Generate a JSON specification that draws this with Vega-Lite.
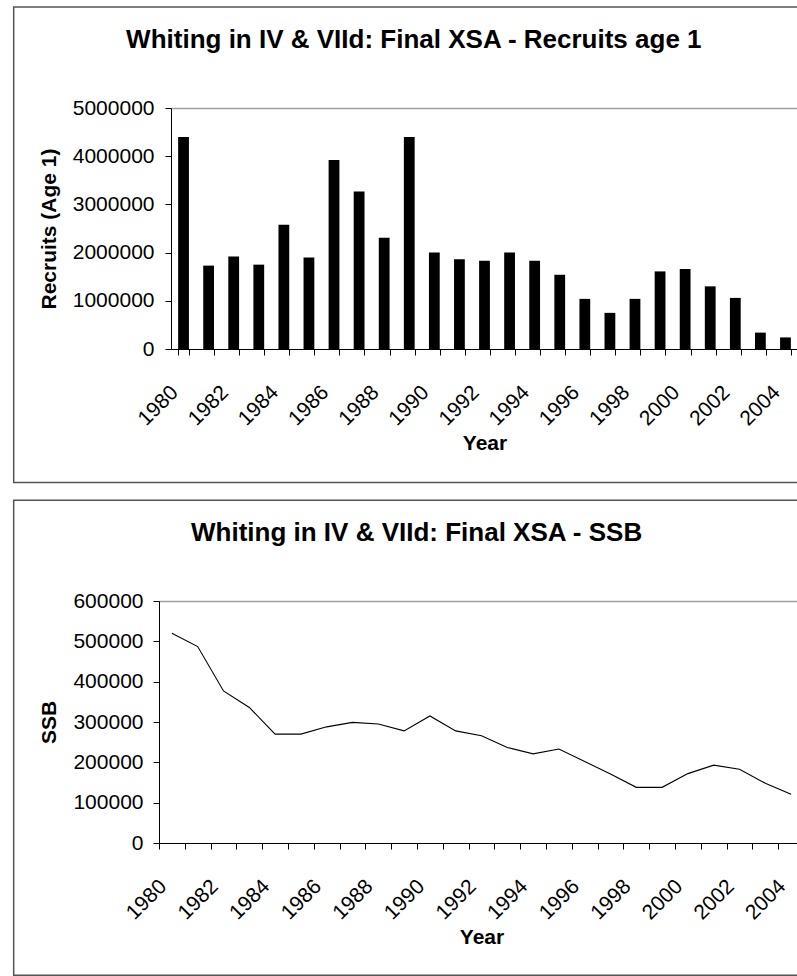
{
  "$schema": "https://vega.github.io/schema/vega-lite/v6.json",
  "background": "white",
  "padding": {"left": 12, "top": 6, "right": 0, "bottom": 0},
  "config": {
    "font": "Liberation Sans",
    "view": {"stroke": null},
    "axis": {
      "domainColor": "#000", "tickColor": "#000", "labelColor": "#000", "titleColor": "#000",
      "labelFont": "Liberation Sans", "titleFont": "Liberation Sans",
      "labelFontSize": 21, "titleFontSize": 21, "titleFontWeight": "bold",
      "tickSize": 6, "domainWidth": 1, "tickWidth": 1, "labelPadding": 11
    },
    "title": {"fontSize": 26, "fontWeight": "bold", "color": "#000", "font": "Liberation Sans", "frame": "bounds", "anchor": "middle", "offset": -47}
  },
  "datasets": {
    "recruits": [
      {"Year": 1980, "Recruits": 4400000}, {"Year": 1981, "Recruits": 1730000}, {"Year": 1982, "Recruits": 1920000},
      {"Year": 1983, "Recruits": 1750000}, {"Year": 1984, "Recruits": 2580000}, {"Year": 1985, "Recruits": 1900000},
      {"Year": 1986, "Recruits": 3920000}, {"Year": 1987, "Recruits": 3270000}, {"Year": 1988, "Recruits": 2310000},
      {"Year": 1989, "Recruits": 4400000}, {"Year": 1990, "Recruits": 2000000}, {"Year": 1991, "Recruits": 1860000},
      {"Year": 1992, "Recruits": 1830000}, {"Year": 1993, "Recruits": 2000000}, {"Year": 1994, "Recruits": 1830000},
      {"Year": 1995, "Recruits": 1540000}, {"Year": 1996, "Recruits": 1040000}, {"Year": 1997, "Recruits": 750000},
      {"Year": 1998, "Recruits": 1040000}, {"Year": 1999, "Recruits": 1610000}, {"Year": 2000, "Recruits": 1660000},
      {"Year": 2001, "Recruits": 1300000}, {"Year": 2002, "Recruits": 1060000}, {"Year": 2003, "Recruits": 340000},
      {"Year": 2004, "Recruits": 240000}
    ],
    "ssb": [
      {"Year": 1980, "SSB": 520000}, {"Year": 1981, "SSB": 487000}, {"Year": 1982, "SSB": 377000},
      {"Year": 1983, "SSB": 336000}, {"Year": 1984, "SSB": 270000}, {"Year": 1985, "SSB": 270000},
      {"Year": 1986, "SSB": 288000}, {"Year": 1987, "SSB": 299000}, {"Year": 1988, "SSB": 295000},
      {"Year": 1989, "SSB": 278000}, {"Year": 1990, "SSB": 315000}, {"Year": 1991, "SSB": 278000},
      {"Year": 1992, "SSB": 266000}, {"Year": 1993, "SSB": 237000}, {"Year": 1994, "SSB": 221000},
      {"Year": 1995, "SSB": 233000}, {"Year": 1996, "SSB": 202000}, {"Year": 1997, "SSB": 171000},
      {"Year": 1998, "SSB": 138000}, {"Year": 1999, "SSB": 138000}, {"Year": 2000, "SSB": 172000},
      {"Year": 2001, "SSB": 193000}, {"Year": 2002, "SSB": 183000}, {"Year": 2003, "SSB": 148000},
      {"Year": 2004, "SSB": 121000}
    ]
  },
  "columns": 1,
  "spacing": 15,
  "align": "none",
  "bounds": "full",
  "concat": [
    {
      "title": {"text": "Whiting in IV & VIId: Final XSA - Recruits age 1"},
      "width": 639,
      "height": 241,
      "layer": [
        {
          "data": {"values": [{}]},
          "mark": {"type": "rect", "filled": false, "stroke": "#555555", "strokeWidth": 1.5},
          "encoding": {
            "x": {"datum": -0.2274, "type": "quantitative", "scale": {"domain": [0, 1], "nice": false, "zero": false}, "axis": null},
            "x2": {"datum": 1.025},
            "y": {"datum": -0.5541, "type": "quantitative", "scale": {"domain": [0, 1], "nice": false, "zero": false}, "axis": null},
            "y2": {"datum": 1.4186}
          }
        },
        {
          "data": {"name": "recruits"},
          "mark": {"type": "bar", "color": "#000000"},
          "encoding": {
            "x": {
              "field": "Year", "type": "ordinal",
              "scale": {"range": [12, 639], "paddingInner": 0.57, "paddingOuter": 0.285},
              "axis": {"title": "Year", "labelAngle": -45, "labelAlign": "right", "labelBaseline": "middle", "labelOffset": -9, "labelExpr": "datum.value % 2 == 0 ? datum.label : ''", "tickBand": "extent", "titlePadding": 3, "labelPadding": 34}
            },
            "y": {
              "field": "Recruits", "type": "quantitative",
              "scale": {"domain": [0, 5000000], "nice": false},
              "axis": {
                "title": "Recruits (Age 1)", "values": [0, 1000000, 2000000, 3000000, 4000000, 5000000], "format": "d",
                "offset": -12,
                "grid": true, "gridColor": "#a0a0a0", "gridWidth": 1.5,
                "gridOpacity": {"condition": {"test": "datum.value == 5000000", "value": 1}, "value": 0},
                "titlePadding": 13
              }
            }
          }
        }
      ],
      "resolve": {"scale": {"x": "independent", "y": "independent"}}
    },
    {
      "title": {"text": "Whiting in IV & VIId: Final XSA - SSB"},
      "width": 645,
      "height": 242,
      "layer": [
        {
          "data": {"values": [{}]},
          "mark": {"type": "rect", "filled": false, "stroke": "#555555", "strokeWidth": 1.5},
          "encoding": {
            "x": {"datum": -0.2253, "type": "quantitative", "scale": {"domain": [0, 1], "nice": false, "zero": false}, "axis": null},
            "x2": {"datum": 1.024},
            "y": {"datum": -0.5464, "type": "quantitative", "scale": {"domain": [0, 1], "nice": false, "zero": false}, "axis": null},
            "y2": {"datum": 1.4165}
          }
        },
        {
          "data": {"name": "ssb"},
          "mark": {"type": "line", "color": "#000000", "strokeWidth": 1.1},
          "encoding": {
            "x": {
              "field": "Year", "type": "ordinal", "bandPosition": 0.5,
              "scale": {"type": "band", "paddingInner": 0, "paddingOuter": 0},
              "axis": {"title": "Year", "labelAngle": -45, "labelAlign": "right", "labelBaseline": "middle", "labelOffset": -9, "labelExpr": "datum.value % 2 == 0 ? datum.label : ''", "tickBand": "extent", "titlePadding": 3, "labelPadding": 34}
            },
            "y": {
              "field": "SSB", "type": "quantitative",
              "scale": {"domain": [0, 600000], "nice": false},
              "axis": {
                "title": "SSB", "values": [0, 100000, 200000, 300000, 400000, 500000, 600000], "format": "d",
                "grid": true, "gridColor": "#a0a0a0", "gridWidth": 1.5,
                "gridOpacity": {"condition": {"test": "datum.value == 600000", "value": 1}, "value": 0},
                "labelPadding": 10,
                "titlePadding": 13
              }
            }
          }
        }
      ],
      "resolve": {"scale": {"x": "independent", "y": "independent"}}
    }
  ]
}
